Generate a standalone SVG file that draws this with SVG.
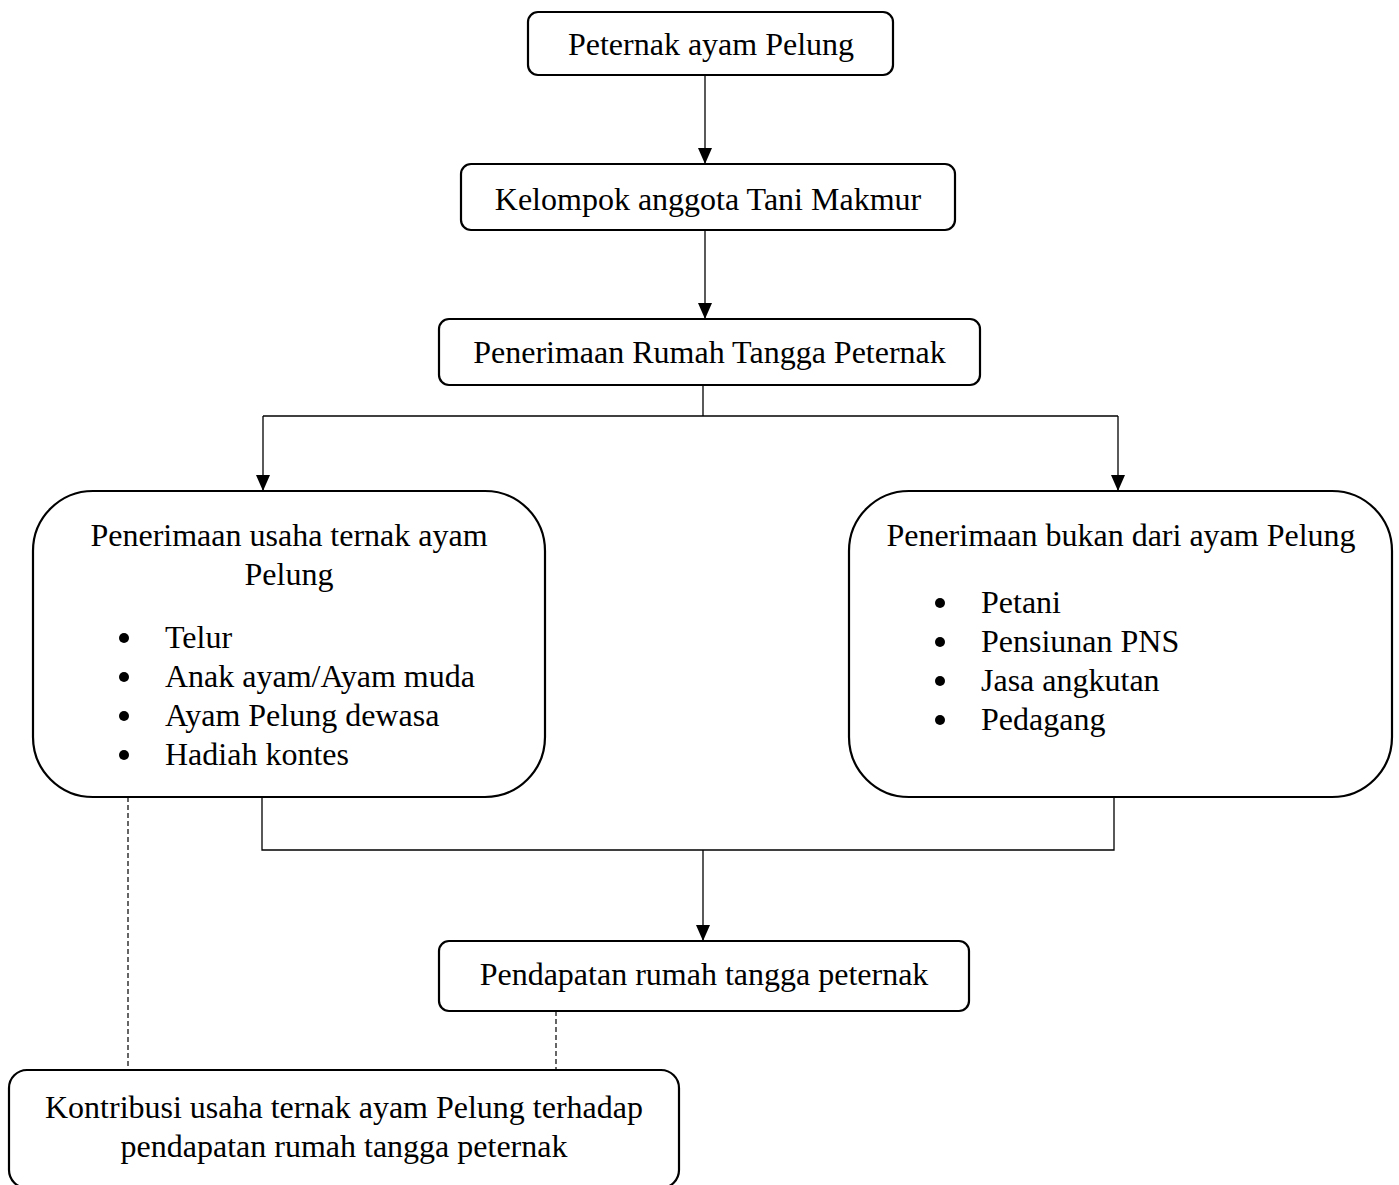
<svg xmlns="http://www.w3.org/2000/svg" width="1399" height="1185" viewBox="0 0 1399 1185">
<style>
.box{fill:#fff;stroke:#000;stroke-width:2.2}
.t{font-family:"Liberation Serif","Times New Roman",serif;font-size:32px;fill:#000}
.c{text-anchor:middle}
.ln{fill:none;stroke:#000;stroke-width:1.3}
.ds{fill:none;stroke:#000;stroke-width:1.2;stroke-dasharray:5 3}
</style>
<defs>
<marker id="ah" markerWidth="16" markerHeight="14" refX="16" refY="7" orient="auto" markerUnits="userSpaceOnUse" viewBox="0 0 16 14">
<path d="M0,0 L16,7 L0,14 Z" fill="#000"/>
</marker>
</defs>
<rect width="1399" height="1185" fill="#fff"/>
<g id="connectors">
<line class="ln" x1="705" y1="75" x2="705" y2="164" marker-end="url(#ah)"/>
<line class="ln" x1="705" y1="230" x2="705" y2="319" marker-end="url(#ah)"/>
<polyline class="ln" points="703,385 703,416"/>
<polyline class="ln" points="263,416 1118,416"/>
<line class="ln" x1="263" y1="416" x2="263" y2="491" marker-end="url(#ah)"/>
<line class="ln" x1="1118" y1="416" x2="1118" y2="491" marker-end="url(#ah)"/>
<polyline class="ln" points="262,797 262,850 1114,850 1114,797"/>
<line class="ln" x1="703" y1="850" x2="703" y2="941" marker-end="url(#ah)"/>
<line class="ds" x1="128" y1="797" x2="128" y2="1070"/>
<line class="ds" x1="556" y1="1011" x2="556" y2="1070"/>
</g>
<g id="n1">
<rect class="box" x="528" y="12" width="365" height="63" rx="10"/>
<text class="t c" x="711" y="55">Peternak ayam Pelung</text>
</g>
<g id="n2">
<rect class="box" x="461" y="164" width="494" height="66" rx="10"/>
<text class="t c" x="708" y="210">Kelompok anggota Tani Makmur</text>
</g>
<g id="n3">
<rect class="box" x="439" y="319" width="541" height="66" rx="10"/>
<text class="t c" x="709.5" y="363">Penerimaan Rumah Tangga Peternak</text>
</g>
<g id="n4">
<rect class="box" x="33" y="491" width="512" height="306" rx="60"/>
<text class="t c" x="289" y="546">Penerimaan usaha ternak ayam</text>
<text class="t c" x="289" y="585">Pelung</text>
<circle cx="124" cy="638" r="5"/>
<circle cx="124" cy="677" r="5"/>
<circle cx="124" cy="716" r="5"/>
<circle cx="124" cy="755" r="5"/>
<text class="t" x="165" y="648">Telur</text>
<text class="t" x="165" y="687">Anak ayam/Ayam muda</text>
<text class="t" x="165" y="726">Ayam Pelung dewasa</text>
<text class="t" x="165" y="765">Hadiah kontes</text>
</g>
<g id="n5">
<rect class="box" x="849" y="491" width="543" height="306" rx="60"/>
<text class="t c" x="1121" y="546">Penerimaan bukan dari ayam Pelung</text>
<circle cx="940" cy="603" r="5"/>
<circle cx="940" cy="642" r="5"/>
<circle cx="940" cy="681" r="5"/>
<circle cx="940" cy="720" r="5"/>
<text class="t" x="981" y="613">Petani</text>
<text class="t" x="981" y="652">Pensiunan PNS</text>
<text class="t" x="981" y="691">Jasa angkutan</text>
<text class="t" x="981" y="730">Pedagang</text>
</g>
<g id="n6">
<rect class="box" x="439" y="941" width="530" height="70" rx="10"/>
<text class="t c" x="704" y="985">Pendapatan rumah tangga peternak</text>
</g>
<g id="n7">
<rect class="box" x="9" y="1070" width="670" height="118" rx="18"/>
<text class="t c" x="344" y="1118">Kontribusi usaha ternak ayam Pelung terhadap</text>
<text class="t c" x="344" y="1157">pendapatan rumah tangga peternak</text>
</g>
</svg>
